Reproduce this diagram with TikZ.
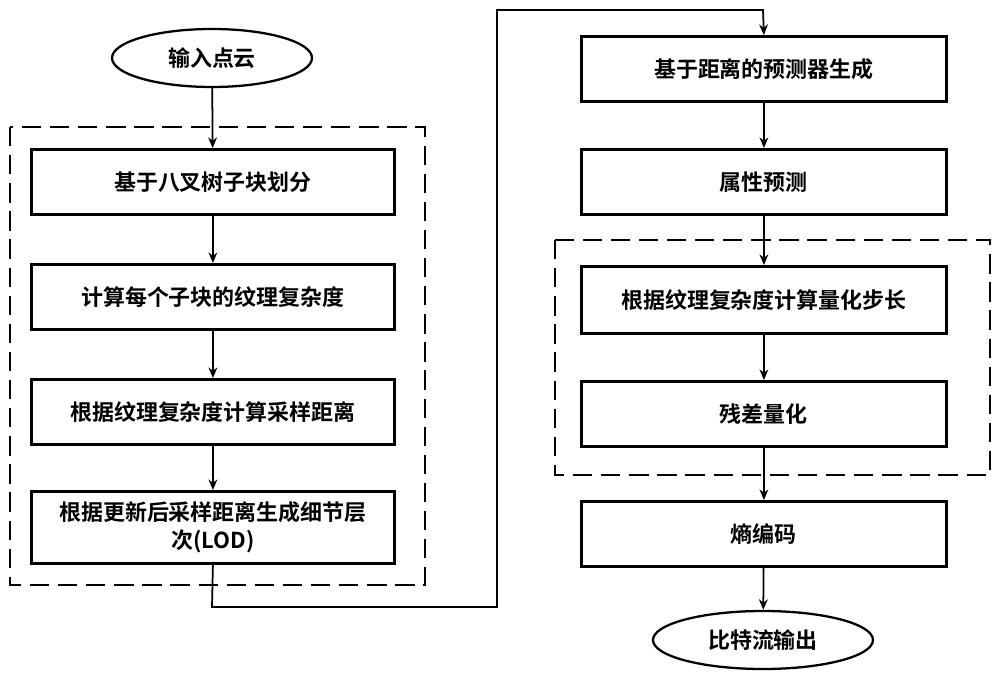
\documentclass[tikz,border=0pt]{standalone}
\usepackage{fontspec}
\newfontfamily\cjk{Noto Sans CJK SC Bold}
\usetikzlibrary{shapes.geometric,arrows.meta}
\begin{document}
\begin{tikzpicture}[x=0.02cm,y=-0.02cm,
  box/.style={draw,line width=1.6pt,minimum width=363*0.02cm,minimum height=65*0.02cm,font=\cjk\fontsize{12.5}{16}\selectfont,align=center,text width=350*0.02cm,anchor=north west,inner sep=0pt},
  ell/.style={draw,ellipse,line width=1.3pt,font=\cjk\fontsize{12.5}{16}\selectfont,inner sep=0pt},
  dashbox/.style={draw,line width=1pt,dash pattern=on 11pt off 5pt},
  arr/.style={-{Stealth[length=6pt,width=5pt]},line width=1pt}]
\useasboundingbox (0,0) rectangle (1000,685);
\node[ell,minimum width=200*0.02cm,minimum height=58*0.02cm] (in) at (212,58) {输入点云};
\draw[dashbox] (10,127) rectangle (425,585);
\node[box] (b1) at (30,148) {基于八叉树子块划分};
\node[box] (b2) at (30,263) {计算每个子块的纹理复杂度};
\node[box] (b3) at (30,378) {根据纹理复杂度计算采样距离};
\node[box,minimum height=72*0.02cm] (b4) at (30,490) {根据更新后采样距离生成细节层\\次(LOD)};
\node[box,minimum width=365*0.02cm] (r1) at (580,35) {基于距离的预测器生成};
\node[box,minimum width=365*0.02cm] (r2) at (580,148) {属性预测};
\draw[dashbox] (555,240) rectangle (990,475);
\node[box,minimum width=365*0.02cm,minimum height=67*0.02cm] (r3) at (580,265) {根据纹理复杂度计算量化步长};
\node[box,minimum width=365*0.02cm] (r4) at (580,380) {残差量化};
\node[box,minimum width=365*0.02cm] (r5) at (580,500) {熵编码};
\node[ell,minimum width=220*0.02cm,minimum height=58*0.02cm] (out) at (763,640) {比特流输出};
\draw[arr] (in) -- (b1);
\draw[arr] (b1) -- (b2);
\draw[arr] (b2) -- (b3);
\draw[arr] (b3) -- (b4);
\coordinate (c1) at (212,607);
\coordinate (c2) at (497,607);
\coordinate (c3) at (497,10);
\coordinate (c4) at (763,10);
\draw[arr] (b4.south) -- (c1) -- (c2) -- (c3) -- (c4) -- (r1.north);
\draw[arr] (r1) -- (r2);
\draw[arr] (r2) -- (r3);
\draw[arr] (r3) -- (r4);
\draw[arr] (r4) -- (r5);
\draw[arr] (r5) -- (out);
\end{tikzpicture}
\end{document}
